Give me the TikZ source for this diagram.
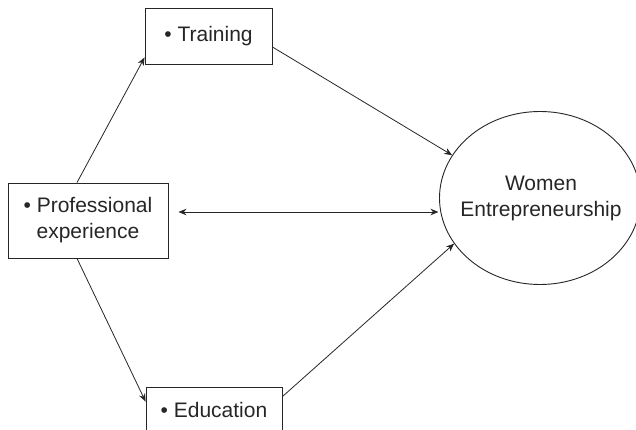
\documentclass[tikz,border=0pt]{standalone}
\usepackage{fontspec}
\setmainfont{Liberation Sans}
\usetikzlibrary{calc,arrows.meta,shapes.geometric}
\begin{document}
\begin{tikzpicture}[x=1pt,y=-1pt,
  every node/.style={font=\fontsize{21}{26}\selectfont, text=black!85, inner sep=0pt, align=center},
  factor/.style={draw=black!85, line width=0.9pt, rectangle},
  outcome/.style={draw=black!85, line width=0.9pt, ellipse},
  link/.style={draw=black!85, line width=0.8pt, -{Stealth[length=8pt,width=6.5pt]}},
  duallink/.style={draw=black!85, line width=0.8pt, {Stealth[length=8pt,width=6.5pt]}-{Stealth[length=8pt,width=6.5pt]}}]
  \useasboundingbox (0,0) rectangle (636,430);
  \clip (0,0) rectangle (636,430);

  % factor boxes
  \node[factor, minimum width=127pt, minimum height=56pt] (train) at (208.5,36) {\textbullet\ Training};
  \node[factor, minimum width=160pt, minimum height=75pt] (prof) at (88,220.5) {\textbullet\ Professional\\experience};
  \node[factor, minimum width=136pt, minimum height=60pt] (edu) at (214,417) {};
  \node (edutext) at (214,410) {\textbullet\ Education};

  % outcome
  \node[outcome, minimum width=201pt, minimum height=173pt] (women) at (540,198) {};
  \node (womentext) at (541,198) {Women\\Entrepreneurship};

  % connectors
  \draw[link] ($(prof.north)+(-11,0)$) -- ($(train.south west)+(0,-7)$);
  \draw[link] ($(prof.south)+(-11,0)$) -- ($(edu.north west)+(0,15)$);
  \draw[link] ($(train.east)+(0,11)$) -- (women.154);
  \draw[link] ($(edu.north east)+(0,10)$) -- (women.208);
  \draw[duallink] ($(prof.east)+(10,-8.5)$) -- ($(prof.east)+(270,-8.5)$);
\end{tikzpicture}
\end{document}
